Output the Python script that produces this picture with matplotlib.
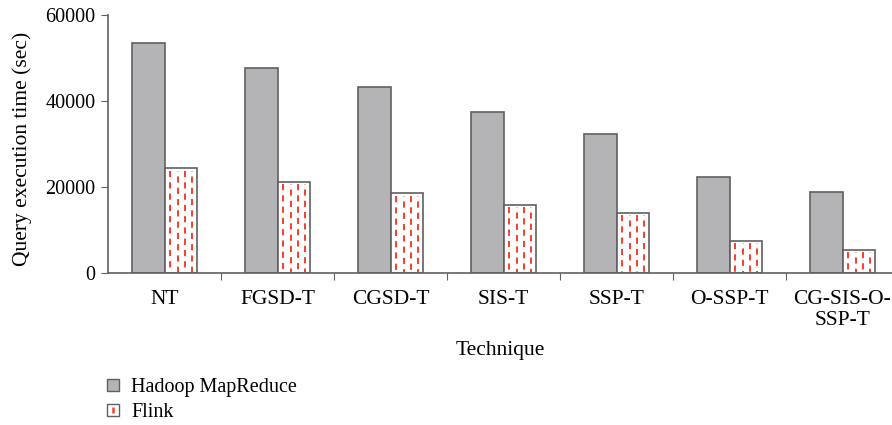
import matplotlib.pyplot as plt
from matplotlib.patches import Patch
from matplotlib.lines import Line2D
import numpy as np

techniques = ['NT', 'FGSD-T', 'CGSD-T', 'SIS-T', 'SSP-T', 'O-SSP-T', 'CG-SIS-O-\nSSP-T']
hadoop = [53500, 47700, 43200, 37400, 32300, 22400, 18800]
flink = [24400, 21200, 18600, 15900, 14000, 7500, 5400]

plt.rcParams['font.family'] = ['Liberation Serif', 'DejaVu Serif']
plt.rcParams['font.size'] = 14.5

W, H = 892, 425
fig = plt.figure(figsize=(W / 100, H / 100), dpi=100)
ax = fig.add_axes([108 / W, 1 - 273 / H, (W - 108) / W, (273 - 15) / H])

x = np.arange(len(techniques))
bw = 0.29
gray = '#b4b4b7'
edge = '#606060'
red = '#f5402c'

ax.bar(x - bw / 2, hadoop, bw, color=gray, edgecolor=edge, linewidth=1.2, zorder=2)
ax.bar(x + bw / 2, flink, bw, color='white', edgecolor=edge, linewidth=1.2, zorder=2)

# dashed red fill pattern inside the Flink bars
for xi, h in zip(x, flink):
    for k, f in enumerate([0.17, 0.4, 0.62, 0.85]):
        off = 0 if k % 2 == 0 else 3
        ax.plot([xi + f * bw, xi + f * bw], [h - 600, 300], color=red, lw=1.4,
                linestyle=(off, (3.2, 2.6)), dash_capstyle='butt', zorder=3)

ax.set_xlim(-0.5, (W - 108) / 113 - 0.5)
ax.set_ylim(0, 60000)
ax.set_yticks([0, 20000, 40000, 60000])
ax.set_xticks(x[:-1] + 0.5)
ax.set_xticklabels([])
ax.set_xticks(x, techniques, minor=True, fontsize=15.5)
ax.tick_params(axis='x', which='minor', length=0, pad=12)
ax.tick_params(axis='x', which='major', length=5, direction='out', color=edge)
ax.tick_params(axis='y', length=5, color=edge, pad=4)

for s in ['top', 'right']:
    ax.spines[s].set_visible(False)
for s in ['left', 'bottom']:
    ax.spines[s].set_color(edge)
    ax.spines[s].set_linewidth(1.2)

ax.set_ylabel('Query execution time (sec)', fontsize=15.5)
ax.yaxis.set_label_coords(-76 / (W - 108), 0.48)
ax.set_xlabel('Technique', fontsize=15.5)
ax.xaxis.set_label_coords(0.5, -68 / 258)

handles = [Patch(facecolor=gray, edgecolor=edge, label='Hadoop MapReduce'),
           (Patch(facecolor='white', edgecolor=edge),
            Line2D([], [], color=red, marker='|', markersize=4, markeredgewidth=1.8,
                   linestyle='none'))]
fig.legend(handles=handles, labels=['Hadoop MapReduce', 'Flink'],
           loc='upper left', bbox_to_anchor=(89 / W, 1 - 360 / H),
           frameon=False, handlelength=0.6, handleheight=0.6, handletextpad=0.6,
           labelspacing=0.3, fontsize=14.5)

fig.savefig('out.png', dpi=100)
